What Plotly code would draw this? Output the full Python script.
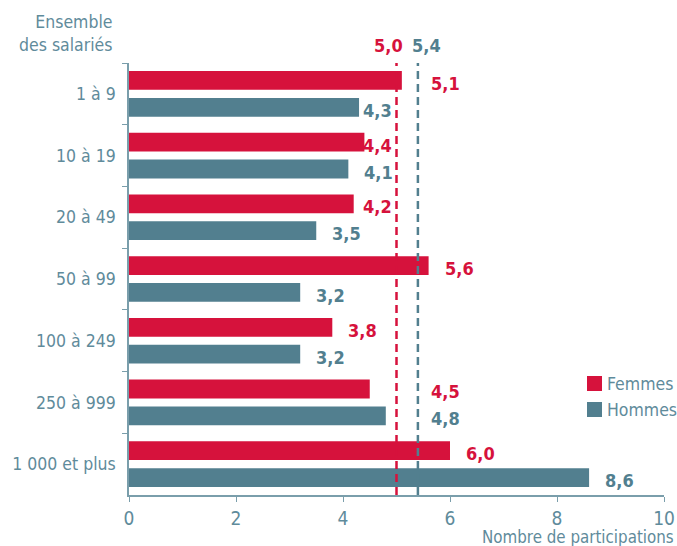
import subprocess
import plotly.graph_objects as go

categories = ["1 à 9", "10 à 19", "20 à 49", "50 à 99", "100 à 249", "250 à 999", "1 000 et plus"]
femmes = [5.1, 4.4, 4.2, 5.6, 3.8, 4.5, 6.0]
hommes = [4.3, 4.1, 3.5, 3.2, 3.2, 4.8, 8.6]
moy_femmes = 5.0
moy_hommes = 5.4
x_ticks = [0, 2, 4, 6, 8, 10]

RED = "#D6123C"
TEAL = "#527F8F"
TXT = "#5F8B9B"
AXC = "#7A9EAB"

try:
    fams = subprocess.run(["fc-list", ":", "family", "style"], capture_output=True, text=True).stdout
except Exception:
    fams = ""
if "Liberation Sans Narrow" in fams:
    FONT = "Liberation Sans Narrow"
    SZ = dict(txt=19.5, xt=20, val=20, ax=19)
elif "DejaVu Sans Condensed" in fams or ("Condensed" in fams and "DejaVu" in fams):
    FONT = "DejaVu Sans Condensed, DejaVu Sans"
    SZ = dict(txt=17.5, xt=19, val=18, ax=16.8)
else:
    FONT = "Roboto"
    SZ = dict(txt=17, xt=19, val=18, ax=16.5)


def fr(v):
    return f"{v:.1f}".replace(".", ",")


fig = go.Figure()
fig.add_trace(go.Bar(y=categories, x=femmes, orientation="h", name="Femmes",
                     marker=dict(color=RED, line=dict(width=0)), showlegend=False, hoverinfo="skip"))
fig.add_trace(go.Bar(y=categories, x=hommes, orientation="h", name="Hommes",
                     marker=dict(color=TEAL, line=dict(width=0)), showlegend=False, hoverinfo="skip"))

# average dashed lines
for v, c in [(moy_femmes, RED), (moy_hommes, TEAL)]:
    fig.add_shape(type="line", xref="x", yref="paper", x0=v, x1=v, y0=0, y1=1,
                  line=dict(color=c, width=2.5, dash="8px,5px"), layer="above")
fig.add_annotation(x=moy_femmes, y=1, xref="x", yref="paper", text="<b>" + fr(moy_femmes) + "</b>",
                   showarrow=False, xanchor="right", yanchor="bottom", xshift=8, yshift=5,
                   font=dict(family=FONT, size=SZ["val"], color=RED))
fig.add_annotation(x=moy_hommes, y=1, xref="x", yref="paper", text="<b>" + fr(moy_hommes) + "</b>",
                   showarrow=False, xanchor="left", yanchor="bottom", xshift=-8, yshift=5,
                   font=dict(family=FONT, size=SZ["val"], color=TEAL))

# value labels
GAP = 0.26
W = 0.49
for vals, color, ys in [(femmes, RED, 13.5), (hommes, TEAL, -13.5)]:
    for cat, v in zip(categories, vals):
        if v + GAP + W > 4.93 and v < moy_hommes:
            if v + 0.05 + W <= 4.98:
                x, anchor = 4.96, "right"
            else:
                x, anchor = moy_hommes + 0.2, "left"
        else:
            x, anchor = v + GAP, "left"
        fig.add_annotation(x=x, y=cat, xref="x", yref="y", text="<b>" + fr(v) + "</b>",
                           showarrow=False, xanchor=anchor, yanchor="middle", yshift=ys - 3,
                           font=dict(family=FONT, size=SZ["val"], color=color))

# custom legend
for i, (name, c) in enumerate([("Femmes", RED), ("Hommes", TEAL)]):
    y0 = 376 + i * 26
    fig.add_shape(type="rect", xref="paper", yref="paper",
                  x0=(587 - 129) / 535, x1=(602 - 129) / 535,
                  y0=(495 - (y0 + 15)) / 432, y1=(495 - y0) / 432,
                  fillcolor=c, line=dict(width=0))
    fig.add_annotation(x=(605 - 129) / 535, y=(495 - (y0 + 7.5)) / 432, xref="paper", yref="paper",
                       text=name, showarrow=False, xanchor="left", yanchor="middle",
                       font=dict(family=FONT, size=SZ["txt"], color=TXT))

fig.add_annotation(x=(115 - 129) / 535, y=(495 - 57) / 432, xref="paper", yref="paper",
                   text="Ensemble<br>des salariés", showarrow=False, xanchor="right", yanchor="bottom",
                   align="right", font=dict(family=FONT, size=SZ["txt"], color=TXT))
fig.add_annotation(x=1, y=0, xref="paper", yref="paper", text="Nombre de participations",
                   showarrow=False, xanchor="right", yanchor="top", xshift=12, yshift=-30,
                   font=dict(family=FONT, size=SZ["ax"], color=TXT))

fig.update_layout(
    width=677, height=546,
    margin=dict(l=129, r=13, t=63, b=51),
    plot_bgcolor="white", paper_bgcolor="white",
    barmode="group", bargap=0.13, bargroupgap=0.3,
    font=dict(family=FONT, color=TXT),
    hovermode=False,
)
fig.update_yaxes(type="category", autorange="reversed", automargin=False,
                 showline=True, linecolor=AXC, linewidth=1.5,
                 ticks="outside", ticklen=5, tickcolor=AXC, tickson="boundaries",
                 showgrid=False, zeroline=False, ticklabelstandoff=8,
                 tickfont=dict(family=FONT, size=SZ["txt"], color=TXT))
fig.update_xaxes(range=[0, 10], tickvals=x_ticks, ticktext=[str(t) for t in x_ticks], automargin=False,
                 showline=True, linecolor=AXC, linewidth=1.5, ticks="outside", ticklen=5,
                 tickcolor=AXC, showgrid=False, zeroline=False,
                 tickfont=dict(family=FONT, size=SZ["xt"], color=TXT))

fig.write_html("out.html", config={"displayModeBar": False},
               post_script="document.body.style.margin='0';document.body.style.overflow='hidden';")
